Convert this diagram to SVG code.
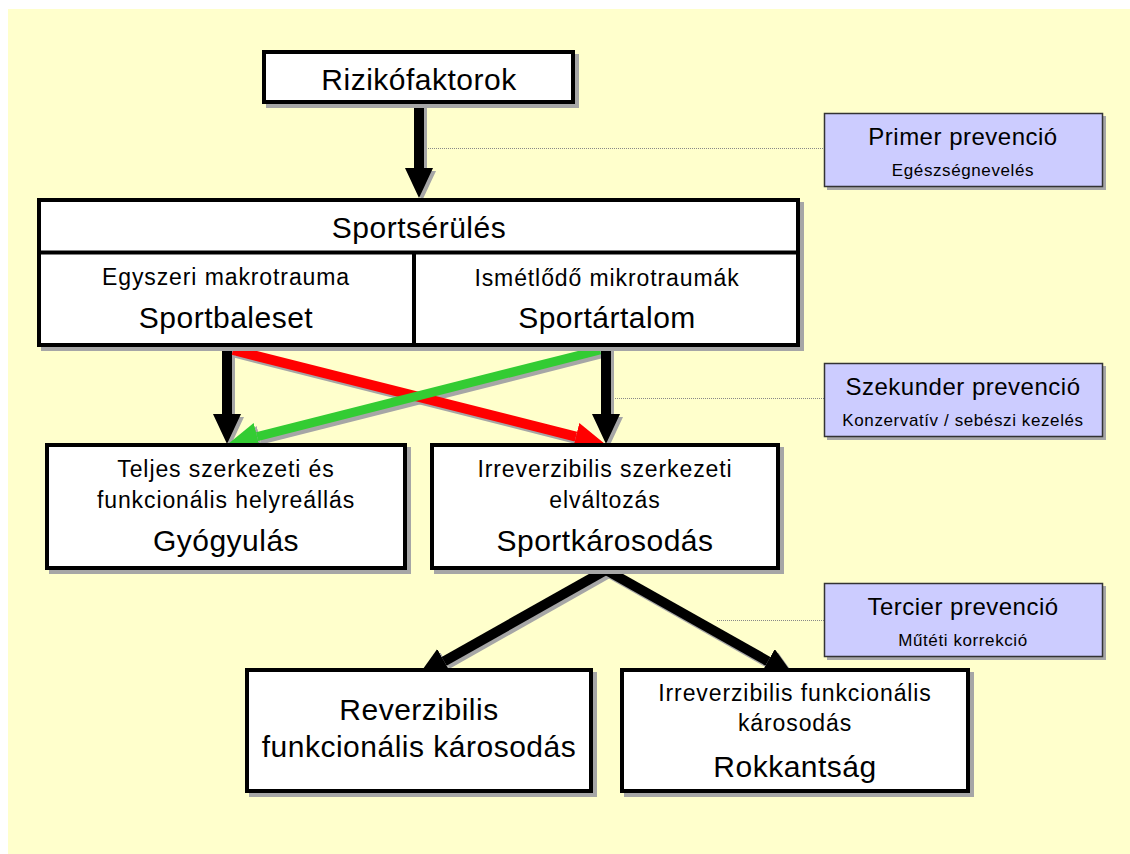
<svg xmlns="http://www.w3.org/2000/svg" width="1130" height="854" viewBox="0 0 1130 854">
<style>
.box{fill:#FFFFFF;stroke:#000000;stroke-width:4}
.shadow{fill:#A6A6A6}
.prev{fill:#CCCCFF;stroke:#333333;stroke-width:1.5}
.t{font-family:"Liberation Sans",Arial,Helvetica,sans-serif;fill:#000000;text-anchor:middle}
.big{font-size:30px;letter-spacing:0.5px}
.mid{font-size:23px;letter-spacing:0.9px}
.ptitle{font-size:24px;letter-spacing:0.5px}
.psub{font-size:17px;letter-spacing:0.6px}
.dot{stroke:#888888;stroke-width:1;stroke-dasharray:1 1;fill:none}
.ab{stroke:#000000;stroke-width:10;fill:none}
.ar{stroke:#FF0000;stroke-width:10;fill:none}
.ag{stroke:#33CC33;stroke-width:9;fill:none}
.as{stroke:#A6A6A6;stroke-width:10;fill:none}
</style>
<defs>
<marker id="hb" markerUnits="userSpaceOnUse" markerWidth="31" markerHeight="29" refX="0" refY="14" orient="auto"><path d="M0,0 L30,14 L0,28 z" fill="#000000"/></marker>
<marker id="hr" markerUnits="userSpaceOnUse" markerWidth="31" markerHeight="29" refX="0" refY="14" orient="auto"><path d="M0,0 L30,14 L0,28 z" fill="#FF0000"/></marker>
<marker id="hg" markerUnits="userSpaceOnUse" markerWidth="31" markerHeight="29" refX="0" refY="14" orient="auto"><path d="M0,0 L30,14 L0,28 z" fill="#33CC33"/></marker>
<marker id="hs" markerUnits="userSpaceOnUse" markerWidth="31" markerHeight="29" refX="0" refY="14" orient="auto"><path d="M0,0 L30,14 L0,28 z" fill="#A6A6A6"/></marker>
</defs>
<rect x="0" y="0" width="1130" height="854" fill="#FFFFFF"/>
<rect x="8" y="9" width="1122" height="845" fill="#FFFFCC"/>

<g id="connectors">
  <g id="dotted-lines">
    <line class="dot" x1="424" y1="148.5" x2="824" y2="148.5"/>
    <line class="dot" x1="611" y1="398.5" x2="824" y2="398.5"/>
    <line class="dot" x1="717" y1="620.5" x2="824" y2="620.5"/>
  </g>
  <g id="arrow-shadows" transform="translate(3,3)">
    <line class="as" x1="419" y1="104" x2="419" y2="168" marker-end="url(#hs)"/>
    <line class="as" x1="227" y1="347" x2="227" y2="414" marker-end="url(#hs)"/>
    <line class="as" x1="606" y1="347" x2="606" y2="414" marker-end="url(#hs)"/>
    <line class="as" x1="233" y1="350" x2="575.9" y2="436.6" marker-end="url(#hs)"/>
    <line class="as" x1="600" y1="350" x2="257.1" y2="436.6" marker-end="url(#hs)"/>
    <line class="as" x1="606" y1="570" x2="444.1" y2="661.3" marker-end="url(#hs)"/>
    <line class="as" x1="606" y1="570" x2="767.9" y2="661.3" marker-end="url(#hs)"/>
  </g>
  <line class="ab" x1="419" y1="104" x2="419" y2="168" marker-end="url(#hb)"/>
  <line class="ab" x1="227" y1="347" x2="227" y2="414" marker-end="url(#hb)"/>
  <line class="ab" x1="606" y1="347" x2="606" y2="414" marker-end="url(#hb)"/>
  <line class="ar" x1="233" y1="350" x2="575.9" y2="436.6" marker-end="url(#hr)"/>
  <line class="ag" x1="600" y1="350" x2="257.1" y2="436.6" marker-end="url(#hg)"/>
  <line class="ab" x1="606" y1="570" x2="444.1" y2="661.3" marker-end="url(#hb)"/>
  <line class="ab" x1="606" y1="570" x2="767.9" y2="661.3" marker-end="url(#hb)"/>
</g>

<g id="rizikofaktorok">
  <rect class="shadow" x="266" y="54" width="313" height="54"/>
  <rect class="box" x="264" y="52" width="309" height="50"/>
  <text class="t big" x="419" y="90">Rizikófaktorok</text>
</g>

<g id="sportserules">
  <rect class="shadow" x="41" y="202" width="763" height="149"/>
  <rect class="box" x="39" y="200" width="759" height="145"/>
  <line x1="39" y1="252.5" x2="798" y2="252.5" stroke="#000000" stroke-width="4"/>
  <line x1="414" y1="252" x2="414" y2="345" stroke="#000000" stroke-width="4"/>
  <text class="t big" x="419" y="238">Sportsérülés</text>
  <text class="t mid" x="226" y="285">Egyszeri makrotrauma</text>
  <text class="t big" x="226" y="328">Sportbaleset</text>
  <text class="t mid" x="607" y="286">Ismétlődő mikrotraumák</text>
  <text class="t big" x="607" y="328">Sportártalom</text>
</g>

<g id="gyogyulas">
  <rect class="shadow" x="49" y="447" width="362" height="127"/>
  <rect class="box" x="47" y="445" width="358" height="123"/>
  <text class="t mid" x="226" y="477">Teljes szerkezeti és</text>
  <text class="t mid" x="226" y="508">funkcionális helyreállás</text>
  <text class="t big" x="226" y="551">Gyógyulás</text>
</g>

<g id="sportkarosodas">
  <rect class="shadow" x="434" y="447" width="350" height="127"/>
  <rect class="box" x="432" y="445" width="346" height="123"/>
  <text class="t mid" x="605" y="477">Irreverzibilis szerkezeti</text>
  <text class="t mid" x="605" y="508">elváltozás</text>
  <text class="t big" x="605" y="551">Sportkárosodás</text>
</g>

<g id="reverzibilis">
  <rect class="shadow" x="249" y="672" width="348" height="125"/>
  <rect class="box" x="247" y="670" width="344" height="121"/>
  <text class="t big" x="419" y="720">Reverzibilis</text>
  <text class="t big" x="419" y="757">funkcionális károsodás</text>
</g>

<g id="rokkantsag">
  <rect class="shadow" x="624" y="672" width="350" height="125"/>
  <rect class="box" x="622" y="670" width="346" height="121"/>
  <text class="t mid" x="795" y="701">Irreverzibilis funkcionális</text>
  <text class="t mid" x="795" y="731">károsodás</text>
  <text class="t big" x="795" y="777">Rokkantság</text>
</g>

<g id="primer">
  <rect class="shadow" x="827" y="116" width="279" height="74"/>
  <rect class="prev" x="824.5" y="113.5" width="278" height="73"/>
  <text class="t ptitle" x="963" y="145">Primer prevenció</text>
  <text class="t psub" x="963" y="176">Egészségnevelés</text>
</g>

<g id="szekunder">
  <rect class="shadow" x="827" y="366" width="279" height="74"/>
  <rect class="prev" x="824.5" y="363.5" width="278" height="73"/>
  <text class="t ptitle" x="963" y="395">Szekunder prevenció</text>
  <text class="t psub" x="963" y="426">Konzervatív / sebészi kezelés</text>
</g>

<g id="tercier">
  <rect class="shadow" x="827" y="586" width="279" height="74"/>
  <rect class="prev" x="824.5" y="583.5" width="278" height="73"/>
  <text class="t ptitle" x="963" y="615">Tercier prevenció</text>
  <text class="t psub" x="963" y="646">Műtéti korrekció</text>
</g>
</svg>
